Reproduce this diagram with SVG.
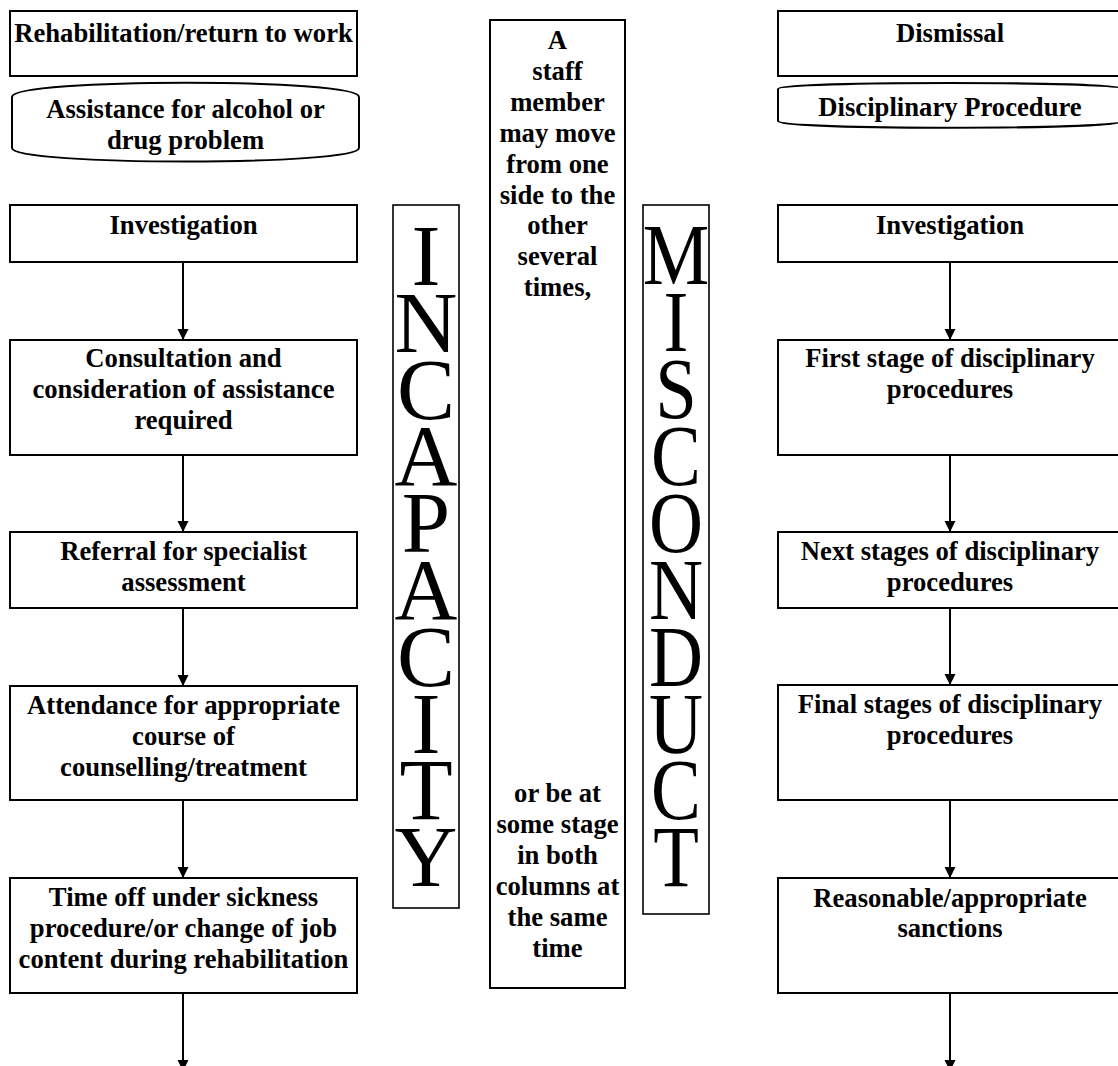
<svg xmlns="http://www.w3.org/2000/svg" width="1118" height="1066" viewBox="0 0 1118 1066">
<style>
.box{fill:#fff;stroke:#000;stroke-width:2}
.col{fill:#fff;stroke:#000;stroke-width:1.6}
.t{font-family:"Liberation Serif","Times New Roman",serif;font-weight:bold;font-size:26.67px;text-anchor:middle;fill:#000}
.big{font-family:"Liberation Serif","Times New Roman",serif;font-size:87px;fill:#000;writing-mode:vertical-rl;text-orientation:upright}
.ln{stroke:#000;stroke-width:2;fill:none}
</style>
<defs>
<marker id="ah" markerUnits="userSpaceOnUse" markerWidth="12" markerHeight="12" refX="11" refY="5.5" orient="auto">
<path d="M0,0 L11,5.5 L0,11 z" fill="#000"/>
</marker>
<marker id="ahs" markerUnits="userSpaceOnUse" markerWidth="14" markerHeight="12" refX="0" refY="5" orient="auto">
<path d="M14,0 L0,5 L14,10 z" fill="#000"/>
</marker>
<marker id="ahe" markerUnits="userSpaceOnUse" markerWidth="14" markerHeight="12" refX="14" refY="5" orient="auto">
<path d="M0,0 L14,5 L0,10 z" fill="#000"/>
</marker>
</defs>

<g id="connectors">
<line class="ln" x1="183" y1="263" x2="183" y2="340" marker-end="url(#ah)"/>
<line class="ln" x1="183" y1="456" x2="183" y2="532" marker-end="url(#ah)"/>
<line class="ln" x1="183" y1="609" x2="183" y2="686" marker-end="url(#ah)"/>
<line class="ln" x1="183" y1="801" x2="183" y2="878" marker-end="url(#ah)"/>
<line class="ln" x1="183" y1="994" x2="183" y2="1071" marker-end="url(#ah)"/>
<line class="ln" x1="950" y1="263" x2="950" y2="340" marker-end="url(#ah)"/>
<line class="ln" x1="950" y1="456" x2="950" y2="532" marker-end="url(#ah)"/>
<line class="ln" x1="950" y1="609" x2="950" y2="685" marker-end="url(#ah)"/>
<line class="ln" x1="950" y1="801" x2="950" y2="878" marker-end="url(#ah)"/>
<line class="ln" x1="950" y1="994" x2="950" y2="1071" marker-end="url(#ah)"/>
<line class="ln" x1="491" y1="647.5" x2="624" y2="647.5" stroke-width="1.6" marker-start="url(#ahs)" marker-end="url(#ahe)"/>
</g>

<g id="rehab">
<rect class="box" x="10" y="11" width="347" height="65"/>
<text class="t" x="183.5" y="42">Rehabilitation/return to work</text>
</g>
<g id="assistance">
<path class="box" d="M12,97 C12,78 359,78 359,97 L359,148 C359,166 12,166 12,148 Z"/>
<text class="t" x="185.5" y="118">Assistance for alcohol or</text>
<text class="t" x="185.5" y="149">drug problem</text>
</g>
<g id="investigation-left">
<rect class="box" x="10" y="205" width="347" height="57"/>
<text class="t" x="183.5" y="234">Investigation</text>
</g>
<g id="consultation">
<rect class="box" x="10" y="340" width="347" height="115"/>
<text class="t" x="183.5" y="367">Consultation and</text>
<text class="t" x="183.5" y="398">consideration of assistance</text>
<text class="t" x="183.5" y="429">required</text>
</g>
<g id="referral">
<rect class="box" x="10" y="532" width="347" height="76"/>
<text class="t" x="183.5" y="560">Referral for specialist</text>
<text class="t" x="183.5" y="591">assessment</text>
</g>
<g id="attendance">
<rect class="box" x="10" y="686" width="347" height="114"/>
<text class="t" x="183.5" y="714">Attendance for appropriate</text>
<text class="t" x="183.5" y="745">course of</text>
<text class="t" x="183.5" y="776">counselling/treatment</text>
</g>
<g id="timeoff">
<rect class="box" x="10" y="878" width="347" height="115"/>
<text class="t" x="183.5" y="906">Time off under sickness</text>
<text class="t" x="183.5" y="937">procedure/or change of job</text>
<text class="t" x="183.5" y="968">content during rehabilitation</text>
</g>

<g id="incapacity">
<rect class="col" x="393" y="205" width="66" height="703"/>
<text class="big" x="426" y="207" style="letter-spacing:-30.2px">INCAPACITY</text>
</g>

<g id="middle">
<rect class="box" x="490" y="20" width="135" height="968"/>
<text class="t" x="557.5" y="49">A</text>
<text class="t" x="557.5" y="80">staff</text>
<text class="t" x="557.5" y="111">member</text>
<text class="t" x="557.5" y="142">may move</text>
<text class="t" x="557.5" y="173">from one</text>
<text class="t" x="557.5" y="203.5">side to the</text>
<text class="t" x="557.5" y="234">other</text>
<text class="t" x="557.5" y="265">several</text>
<text class="t" x="557.5" y="296">times,</text>
<text class="t" x="557.5" y="802">or be at</text>
<text class="t" x="557.5" y="833">some stage</text>
<text class="t" x="557.5" y="864">in both</text>
<text class="t" x="557.5" y="895">columns at</text>
<text class="t" x="557.5" y="926">the same</text>
<text class="t" x="557.5" y="957">time</text>
</g>

<g id="misconduct">
<rect class="col" x="643" y="205" width="66" height="709"/>
<g transform="translate(676,0) scale(0.86,1)">
<text class="big" x="0" y="207" style="letter-spacing:-29.6px">MISCONDUCT</text>
</g>
</g>

<g id="dismissal">
<rect class="box" x="778" y="11" width="344" height="65"/>
<text class="t" x="950" y="42">Dismissal</text>
</g>
<g id="disciplinary">
<path class="box" d="M778,89 C778,81 1122,81 1122,89 L1122,121 C1122,130 778,130 778,121 Z"/>
<text class="t" x="950" y="116">Disciplinary Procedure</text>
</g>
<g id="investigation-right">
<rect class="box" x="778" y="205" width="344" height="57"/>
<text class="t" x="950" y="234">Investigation</text>
</g>
<g id="first-stage">
<rect class="box" x="778" y="340" width="344" height="115"/>
<text class="t" x="950" y="367">First stage of disciplinary</text>
<text class="t" x="950" y="398">procedures</text>
</g>
<g id="next-stages">
<rect class="box" x="778" y="532" width="344" height="76"/>
<text class="t" x="950" y="560">Next stages of disciplinary</text>
<text class="t" x="950" y="591">procedures</text>
</g>
<g id="final-stages">
<rect class="box" x="778" y="685" width="344" height="115"/>
<text class="t" x="950" y="713">Final stages of disciplinary</text>
<text class="t" x="950" y="744">procedures</text>
</g>
<g id="sanctions">
<rect class="box" x="778" y="878" width="344" height="115"/>
<text class="t" x="950" y="907">Reasonable/appropriate</text>
<text class="t" x="950" y="937">sanctions</text>
</g>
</svg>
